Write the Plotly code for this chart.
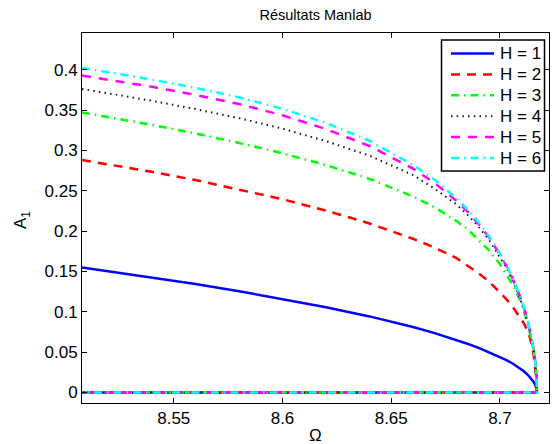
import plotly.graph_objects as go

# ---- data ----
omega = [8.5078, 8.52, 8.54, 8.56, 8.58, 8.60, 8.62, 8.64, 8.66, 8.67, 8.68,
         8.685, 8.69, 8.695, 8.70, 8.703, 8.706, 8.709, 8.711, 8.713, 8.7145,
         8.7155, 8.7163, 8.7168, 8.717]

amp_h1 = [0.155, 0.1503, 0.1427, 0.1345, 0.1256, 0.1160, 0.1057, 0.0943, 0.0812,
          0.0736, 0.0652, 0.0605, 0.0555, 0.0500, 0.0442, 0.0402, 0.0356, 0.0304,
          0.0263, 0.0214, 0.0170, 0.0131, 0.0090, 0.0048, 0.0]
amp_h2 = [0.288, 0.2825, 0.2735, 0.2633, 0.2515, 0.2395, 0.2255, 0.2095, 0.1905,
          0.1795, 0.1665, 0.1575, 0.148, 0.1375, 0.124, 0.1155, 0.1055, 0.094,
          0.0855, 0.075, 0.061, 0.046, 0.030, 0.015, 0.0]
amp_h3 = [0.347, 0.3413, 0.3316, 0.321, 0.3093, 0.2964, 0.2818, 0.2648, 0.243,
          0.2295, 0.2125, 0.2025, 0.1895, 0.176, 0.159, 0.1465, 0.133, 0.116,
          0.1015, 0.083, 0.067, 0.053, 0.036, 0.021, 0.0]
amp_h4 = [0.3762, 0.3708, 0.3615, 0.3512, 0.3400, 0.3270, 0.3115, 0.2935, 0.2695,
          0.2525, 0.2330, 0.2205, 0.2060, 0.1890, 0.1685, 0.1545, 0.1380, 0.1185,
          0.1037, 0.0848, 0.0670, 0.0522, 0.0357, 0.0210, 0.0]
amp_h5 = [0.3928, 0.3878, 0.3788, 0.3688, 0.3575, 0.3435, 0.3265, 0.3055, 0.2775,
          0.2595, 0.2375, 0.2245, 0.2095, 0.1920, 0.1710, 0.1566, 0.1400, 0.1205,
          0.1055, 0.0865, 0.0685, 0.0535, 0.0367, 0.0217, 0.0]
amp_h6 = [0.4022, 0.3970, 0.3878, 0.3775, 0.3658, 0.3515, 0.3340, 0.3120, 0.2820,
          0.2635, 0.2405, 0.2270, 0.2115, 0.1935, 0.1722, 0.1575, 0.1408, 0.1212,
          0.1060, 0.0869, 0.0688, 0.0537, 0.0368, 0.0218, 0.0]

# trivial (A = 0) branch followed back by every curve
zero_omega = [8.717, 8.5078]
zero_amp = [0.0, 0.0]

labels = ["H = 1", "H = 2", "H = 3", "H = 4", "H = 5", "H = 6"]
series = [amp_h1, amp_h2, amp_h3, amp_h4, amp_h5, amp_h6]

x_ticks = [8.55, 8.6, 8.65, 8.7]
y_ticks = [0, 0.05, 0.1, 0.15, 0.2, 0.25, 0.3, 0.35, 0.4]

# ---- styles ----
colors = ["#0000ff", "#ff0000", "#00ff00", "#1a1a1a", "#ff00ff", "#00ffff"]
dashes = ["solid", "9px,7px", "8px,5px,1.5px,5px", "1.5px,4.2px",
          "9px,8px", "8px,5px,1.5px,5px"]
widths = [2.5, 2.5, 2.5, 2, 2.5, 2.5]

FONT = "Liberation Sans, Arial, Helvetica, sans-serif"
W, H = 552, 444
L, R, T, B = 82, 3, 33, 41
PW, PH = W - L - R, H - T - B


def px(xp):  # pixel x -> paper x
    return (xp - L) / PW


def py(yp):  # pixel y -> paper y
    return (H - B - yp) / PH


fig = go.Figure()
for lab, amp, c, d, w in zip(labels, series, colors, dashes, widths):
    fig.add_trace(go.Scatter(
        x=omega + zero_omega[1:],
        y=amp + zero_amp[1:],
        mode="lines",
        name=lab,
        line=dict(color=c, dash=d, width=w),
        showlegend=False,
    ))

# ---- MATLAB-style legend box (samples + real text labels) ----
box = dict(x0=441.5, x1=544.5, y0=40, y1=171)
row_y0, row_step = 53.5, 20.9
sample_x0, sample_x1, text_x = 451, 494, 498

shapes = [dict(type="rect", xref="paper", yref="paper",
               x0=px(box["x0"]), x1=px(box["x1"]),
               y0=py(box["y1"]), y1=py(box["y0"]),
               line=dict(color="black", width=1.5), fillcolor="white",
               layer="above")]
annotations = []
for i, (lab, c, d, w) in enumerate(zip(labels, colors, dashes, widths)):
    yy = row_y0 + i * row_step
    shapes.append(dict(type="line", xref="paper", yref="paper",
                       x0=px(sample_x0), x1=px(sample_x1),
                       y0=py(yy), y1=py(yy),
                       line=dict(color=c, dash=d, width=w), layer="above"))
    annotations.append(dict(text=lab, xref="paper", yref="paper",
                            x=px(text_x), y=py(yy), xanchor="left",
                            yanchor="middle", showarrow=False,
                            font=dict(family=FONT, size=17, color="black")))

annotations += [
    dict(text="Ω", xref="paper", yref="paper", x=0.5, y=py(435),
         xanchor="center", yanchor="middle", showarrow=False,
         font=dict(family=FONT, size=17, color="black")),
    dict(text="A<sub>1</sub>", xref="paper", yref="paper",
         x=px(22), y=py(220),
         xanchor="center", yanchor="middle", textangle=-90, showarrow=False,
         font=dict(family=FONT, size=17, color="black")),
]

axis_common = dict(
    showline=True, linecolor="black", linewidth=1, mirror="ticks",
    ticks="inside", ticklen=5, tickwidth=1, tickcolor="black",
    showgrid=False, zeroline=False,
    tickfont=dict(family=FONT, size=17, color="black"),
)

fig.update_layout(
    width=W, height=H,
    margin=dict(l=L, r=R, t=T, b=B),
    paper_bgcolor="white", plot_bgcolor="white",
    font=dict(family=FONT, color="black"),
    title=dict(text="Résultats Manlab", x=0.5, xref="paper", xanchor="center",
               y=(H - 15) / H, yref="container", yanchor="middle",
               font=dict(family=FONT, size=14.5, color="black")),
    xaxis=dict(range=[8.5078, 8.72255], tickvals=x_ticks,
               ticktext=[f"{v:g}" for v in x_ticks], **axis_common),
    yaxis=dict(range=[-0.013, 0.4455], tickvals=y_ticks,
               ticktext=[f"{v:g}" for v in y_ticks], **axis_common),
    showlegend=False,
    shapes=shapes,
    annotations=annotations,
)

fig.write_html(
    "out.html",
    config={"displayModeBar": False},
    post_script="document.body.style.margin='0';document.body.style.padding='0';"
                "document.body.style.overflow='hidden';",
)
